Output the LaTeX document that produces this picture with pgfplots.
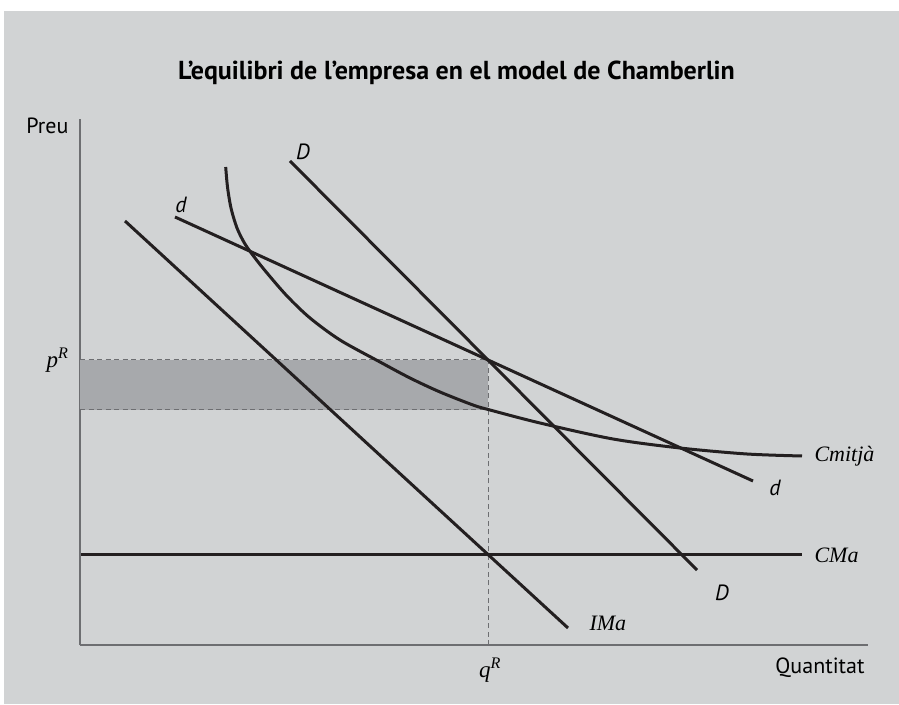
\documentclass[border=0pt]{standalone}
\usepackage{fontspec}
\setmainfont{Liberation Serif}
\newfontfamily\sans{PT Sans}
\usepackage{pgfplots}
\pgfplotsset{compat=1.18}
\definecolor{bg}{HTML}{D1D3D4}
\definecolor{shade}{HTML}{A7A9AC}
\definecolor{ink}{HTML}{231F20}
\definecolor{axgray}{HTML}{6D6E71}
\begin{document}
\begin{tikzpicture}[x=1pt,y=1pt]
\useasboundingbox (0,0) rectangle (899,704);
\fill[white] (0,0) rectangle (899,704);
\fill[bg] (4,0) rectangle (899,693);
\begin{axis}[
  at={(80pt,59pt)}, anchor=south west,
  scale only axis, width=788pt, height=526pt,
  xmin=0, xmax=788, ymin=0, ymax=526,
  axis x line=bottom, axis y line=left,
  axis line style={draw=axgray, line width=1.3pt, -},
  xtick=\empty, ytick=\empty,
  clip=false,
  curve/.style={draw=ink, solid, mark=none, line width=3pt},
  guide/.style={draw=axgray, mark=none, line width=1pt, dash pattern=on 5pt off 3.5pt},
]
% shaded profit area
\addplot[fill=shade, draw=none, mark=none] coordinates {(0,235) (408,235) (408,285) (0,285)} -- cycle;
% dashed guides
\addplot[guide] coordinates {(0,285) (408,285)};
\addplot[guide] coordinates {(0,235) (408,235)};
\addplot[guide] coordinates {(408,0) (408,285)};
% CMa
\addplot[curve] coordinates {(1,90.5) (722,90.5)};
% IMa
\addplot[curve] coordinates {(45,424) (488,17)};
% d
\addplot[curve] coordinates {(95,428) (673,164)};
% D
\addplot[curve] coordinates {(210,484) (617,75)};
% Cmitja
\addplot[curve, smooth] coordinates {
 (145.7,478) (147.5,458) (151,437) (157,417) (165,401) (175,387) (187,372)
 (207,349) (230,327) (260,305) (300,283) (330,267) (360,253) (393,240)
 (410,235) (460,222) (533,206) (600,197) (667,191) (722,189)};
% labels
\node[font=\sans\bfseries\fontsize{26}{29}\selectfont] at (axis cs:376.5,572) {L’equilibri de l’empresa en el model de Chamberlin};
\node[font=\sans\fontsize{22}{25}\selectfont, anchor=east] at (axis cs:-8,519) {Preu};
\node[font=\sans\fontsize{22}{25}\selectfont, anchor=east] at (axis cs:788,-23) {Quantitat};
\node[font=\fontsize{23}{26}\selectfont, anchor=east] at (axis cs:-8,285) {\textit{p}\textsuperscript{\textit{R}}};
\node[font=\fontsize{23}{26}\selectfont] at (axis cs:410,-25) {\textit{q}\textsuperscript{\textit{R}}};
\node[font=\sans\itshape\fontsize{22}{25}\selectfont] at (axis cs:223,493) {D};
\node[font=\sans\itshape\fontsize{22}{25}\selectfont] at (axis cs:101,440) {d};
\node[font=\sans\itshape\fontsize{22}{25}\selectfont] at (axis cs:695,157) {d};
\node[font=\sans\itshape\fontsize{22}{25}\selectfont] at (axis cs:642,52) {D};
\node[font=\itshape\fontsize{22}{25}\selectfont, anchor=west] at (axis cs:731,189) {Cmitjà};
\node[font=\itshape\fontsize{22}{25}\selectfont, anchor=west] at (axis cs:731,90) {CMa};
\node[font=\itshape\fontsize{22}{25}\selectfont, anchor=west] at (axis cs:506,22) {IMa};
\end{axis}
\end{tikzpicture}
\end{document}
